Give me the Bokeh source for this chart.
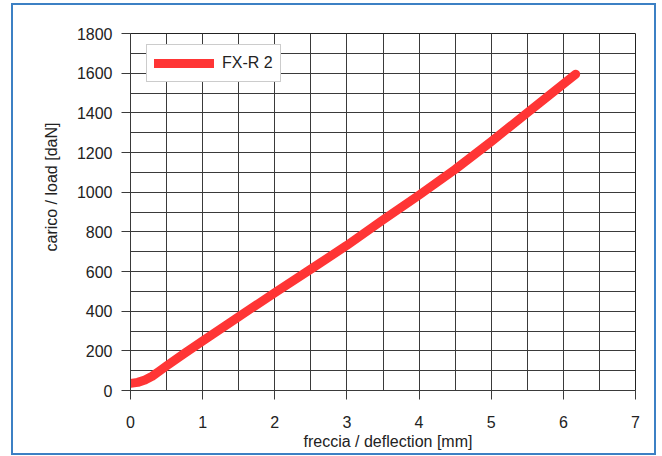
from bokeh.plotting import figure
from bokeh.models import Range1d, SingleIntervalTicker, Legend, LegendItem, Title
from bokeh.embed import file_html
from bokeh.resources import INLINE

# ---- data ----
deflection_mm = [0.0, 0.1, 0.2, 0.3, 0.4, 0.5, 0.75, 1.0, 1.5, 2.0, 2.5, 3.0,
                 3.5, 4.0, 4.5, 5.0, 5.5, 6.0, 6.17]
load_daN = [36, 41, 53, 72, 98, 124, 188, 250, 372, 493, 612, 732,
            860, 985, 1115, 1255, 1400, 1545, 1595]
series_name = "FX-R 2"
x_label = "freccia / deflection [mm]"
y_label = "carico / load [daN]"

FONT = "Liberation Sans"
TXT = "#222222"
GRID = "#3a3a3a"

p = figure(width=645, height=452, output_backend="svg", toolbar_location=None,
           x_range=Range1d(0, 7), y_range=Range1d(0, 1800),
           min_border_left=117, min_border_right=23,
           min_border_top=28, min_border_bottom=67,
           background_fill_color="white", border_fill_color="white",
           styles={"border": "2px solid #3c80c4", "margin-top": "3px",
                   "margin-left": "11px"})

p.xaxis.ticker = SingleIntervalTicker(interval=1, num_minor_ticks=2)
p.yaxis.ticker = SingleIntervalTicker(interval=200, num_minor_ticks=2)

for ax in (p.xaxis[0], p.yaxis[0]):
    ax.axis_line_color = GRID
    ax.major_tick_line_color = GRID
    ax.major_tick_out = 9
    ax.major_tick_in = 0
    ax.minor_tick_out = 0
    ax.minor_tick_in = 0
    ax.major_label_text_font = FONT
    ax.major_label_text_font_size = "16px"
    ax.major_label_text_color = TXT
p.yaxis.major_label_standoff = 9
p.xaxis.major_label_standoff = 16

for g in (p.xgrid[0], p.ygrid[0]):
    g.grid_line_color = GRID
    g.grid_line_width = 1
    g.minor_grid_line_color = GRID
    g.minor_grid_line_width = 1

p.outline_line_color = "#222222"
p.outline_line_width = 1

r = p.line(deflection_mm, load_daN, line_color="#ff3535", line_width=9,
           line_cap="round", line_join="round")

legend = Legend(items=[LegendItem(label=series_name, renderers=[r])],
                location=(16, 308), orientation="vertical",
                label_text_font=FONT, label_text_font_size="16px",
                label_text_color=TXT, glyph_width=60, glyph_height=22,
                padding=7, margin=0, spacing=0, label_standoff=8,
                border_line_color="#999999", background_fill_color="white",
                background_fill_alpha=1)
p.add_layout(legend, "center")

p.add_layout(Title(text=x_label, align="left", offset=173, standoff=0,
                   text_font=FONT, text_font_size="16px", text_color=TXT,
                   text_font_style="normal"), "below")
p.add_layout(Title(text=y_label, align="left", offset=139, standoff=28,
                   text_font=FONT, text_font_size="16px", text_color=TXT,
                   text_font_style="normal"), "left")

open("out.html", "w").write(file_html(p, INLINE))
